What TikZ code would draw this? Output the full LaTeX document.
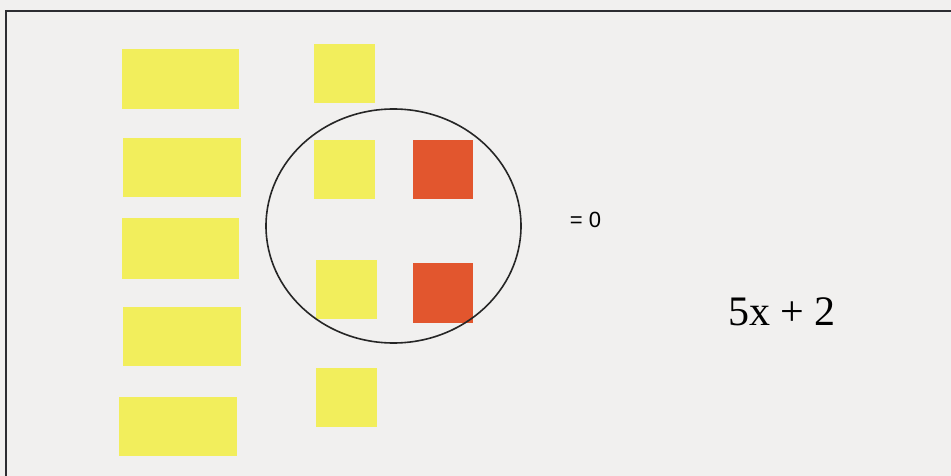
\documentclass[tikz,border=0pt]{standalone}
\usepackage{fontspec}
\setmainfont{Liberation Serif}
\newfontfamily\sansf{Liberation Sans}
\definecolor{bgcol}{RGB}{241,240,239}
\definecolor{tileyellow}{RGB}{242,238,92}
\definecolor{tilered}{RGB}{226,86,46}
\definecolor{framecol}{RGB}{45,45,50}
\begin{document}
\begin{tikzpicture}[x=1pt,y=-1pt,
  ytile/.style={fill=tileyellow},
  rtile/.style={fill=tilered},
  framestyle/.style={draw=framecol,line width=2pt},
  ringstyle/.style={draw=black!85,line width=1.6pt}]
\useasboundingbox (0,0) rectangle (951,476);
\fill[bgcol] (0,0) rectangle (951,476);
% frame (top and left visible)
\draw[framestyle] (6,480) -- (6,11) -- (955,11);
% long yellow tiles (x)
\fill[ytile] (122,49) rectangle (239,109);
\fill[ytile] (123,138) rectangle (241,197);
\fill[ytile] (122,218) rectangle (239,279);
\fill[ytile] (123,307) rectangle (241,366);
\fill[ytile] (119,397) rectangle (237,456);
% small yellow tiles (+1)
\fill[ytile] (314,44) rectangle (375,103);
\fill[ytile] (314,140) rectangle (375,199);
\fill[ytile] (316,260) rectangle (377,319);
\fill[ytile] (316,368) rectangle (377,427);
% red tiles (-1)
\fill[rtile] (413,140) rectangle (473,199);
\fill[rtile] (413,263) rectangle (473,323);
% zero pair ring
\draw[ringstyle] (393.5,226) ellipse [x radius=127.5, y radius=117];
% labels
\node[font=\sansf\fontsize{22}{26}\selectfont, inner sep=0pt, anchor=base] (zero) at (585.5,227) {= 0};
\node[font=\fontsize{42}{48}\selectfont, inner sep=0pt, anchor=base] (expr) at (782,325) {5x + 2};
\end{tikzpicture}
\end{document}
